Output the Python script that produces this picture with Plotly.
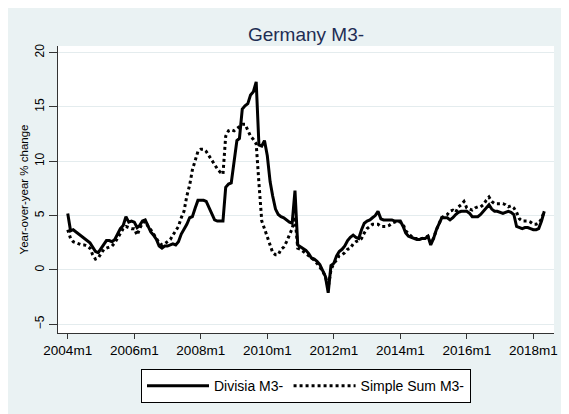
import pandas as pd
import plotly.graph_objects as go

start_month = "2004-01-01"

divisia_m3 = [
    5.2, 3.6, 3.7, 3.5, 3.3, 3.1, 2.9, 2.7, 2.5, 2.1, 1.7, 1.6,      # 2004
    2.0, 2.3, 2.7, 2.7, 2.6, 2.8, 3.3, 3.8, 4.1, 4.9, 4.4, 4.5,      # 2005
    4.4, 3.9, 4.1, 4.5, 4.6, 4.1, 3.5, 3.2, 2.8, 2.2, 2.0, 2.2,      # 2006
    2.2, 2.3, 2.4, 2.3, 2.6, 3.3, 3.7, 4.2, 4.8, 4.9, 5.7, 6.4,      # 2007
    6.4, 6.4, 6.3, 5.7, 5.1, 4.6, 4.5, 4.5, 4.5, 7.6, 7.9, 8.0,      # 2008
    10.2, 11.9, 12.1, 14.8, 15.1, 15.3, 16.1, 16.4, 17.3, 11.5, 11.4, 11.9,  # 2009
    10.5, 8.1, 6.8, 5.6, 5.1, 4.9, 4.8, 4.6, 4.4, 4.3, 7.3, 2.3,     # 2010
    2.1, 1.9, 1.8, 1.5, 1.1, 1.0, 0.8, 0.5, 0.0, -0.6, -2.1, 0.4,    # 2011
    0.6, 1.3, 1.7, 1.9, 2.2, 2.7, 3.0, 3.2, 3.0, 2.9, 3.7, 4.3,      # 2012
    4.5, 4.6, 4.8, 5.0, 5.4, 4.7, 4.6, 4.6, 4.6, 4.6, 4.5, 4.5,      # 2013
    4.5, 4.0, 3.4, 3.1, 3.0, 2.9, 2.8, 2.8, 2.9, 2.9, 3.1, 2.3,      # 2014
    2.9, 3.7, 4.3, 4.8, 4.8, 4.8, 4.6, 4.8, 5.1, 5.3, 5.4, 5.4,      # 2015
    5.4, 5.2, 4.9, 4.9, 4.9, 5.1, 5.4, 5.7, 6.0, 5.6, 5.4, 5.4,      # 2016
    5.3, 5.2, 5.3, 5.4, 5.3, 5.1, 4.0, 3.9, 3.8, 3.9, 3.9, 3.8,      # 2017
    3.7, 3.7, 3.8, 4.5, 5.4,                                         # 2018
]

simple_sum_m3 = [
    3.7, 2.9, 2.6, 2.5, 2.4, 2.3, 2.3, 2.2, 2.0, 1.4, 1.0, 1.1,      # 2004
    1.5, 1.9, 2.0, 2.1, 2.2, 2.5, 2.9, 3.4, 3.8, 4.0, 3.9, 3.8,      # 2005
    3.8, 3.2, 3.8, 4.3, 4.5, 4.0, 3.7, 3.3, 2.9, 2.5, 2.3, 2.4,      # 2006
    2.6, 2.8, 3.2, 3.6, 4.0, 4.8, 5.4, 6.8, 7.8, 9.2, 10.2, 10.9,    # 2007
    11.1, 11.1, 10.9, 10.5, 10.0, 9.6, 9.3, 9.0, 8.8, 12.3, 12.8, 12.9,  # 2008
    12.8, 13.0, 13.2, 13.4, 13.4, 12.8, 12.3, 12.0, 11.6, 8.0, 4.5, 3.8,  # 2009
    3.0, 2.1, 1.6, 1.4, 1.4, 1.9, 2.1, 2.6, 3.2, 3.8, 4.9, 2.0,      # 2010
    1.9, 1.7, 1.5, 1.3, 1.1, 0.9, 0.6, 0.3, -0.1, -0.6, -1.6, 0.0,   # 2011
    0.6, 0.9, 1.3, 1.4, 1.6, 1.9, 2.0, 2.4, 2.6, 2.7, 2.9, 3.4,      # 2012
    3.8, 4.0, 4.2, 4.2, 4.2, 4.0, 4.0, 4.0, 4.1, 4.3, 4.4, 4.5,      # 2013
    4.4, 4.2, 3.6, 3.3, 3.1, 2.9, 2.9, 2.9, 2.9, 3.0, 3.1, 2.5,      # 2014
    2.9, 3.7, 4.3, 4.8, 5.0, 5.1, 5.4, 5.5, 5.3, 5.8, 6.0, 6.3,      # 2015
    5.7, 5.6, 5.5, 5.7, 5.8, 5.8, 6.0, 6.4, 6.7, 6.3, 6.1, 6.1,      # 2016
    6.1, 6.1, 6.0, 5.8, 5.9, 5.7, 5.3, 4.7, 4.5, 4.5, 4.5, 4.4,      # 2017
    4.2, 4.2, 4.3, 4.7, 5.4,                                         # 2018
]

x_tick_dates = ["2004-01-01", "2006-01-01", "2008-01-01", "2010-01-01",
                "2012-01-01", "2014-01-01", "2016-01-01", "2018-01-01"]
x_tick_labels = ["2004m1", "2006m1", "2008m1", "2010m1",
                 "2012m1", "2014m1", "2016m1", "2018m1"]
y_tick_values = [-5, 0, 5, 10, 15, 20]

months = pd.date_range(start_month, periods=len(divisia_m3), freq="MS")

FONT = "Arial, Liberation Sans, sans-serif"
BG = "#EAF2F3"

fig = go.Figure()
fig.add_trace(go.Scatter(x=months, y=divisia_m3, mode="lines", name="Divisia M3-",
                         line=dict(color="black", width=3)))
fig.add_trace(go.Scatter(x=months, y=simple_sum_m3, mode="lines", name="Simple Sum M3-",
                         line=dict(color="black", width=3, dash="dot")))

# the page body has an 8px margin, so the figure is drawn 8px in from the window corner
OFF = 8
W, H = 569 - OFF, 414 - OFF
L, R, T, B = 58 - OFF, 11, 46 - OFF, 78
pw, ph = W - L - R, H - T - B

def px_x(p):
    return (p - OFF - L) / pw

def px_y(p):
    return 1 - (p - OFF - T) / ph

fig.update_layout(
    width=W, height=H,
    margin=dict(l=L, r=R, t=T, b=B),
    paper_bgcolor=BG,
    plot_bgcolor="white",
    font=dict(family=FONT, color="black"),
    title=dict(text="Germany M3-", x=px_x(308), xref="paper", xanchor="center",
               y=1 - (34 - OFF) / H, yref="container", yanchor="middle",
               font=dict(size=19, color="#1E2D53", family=FONT)),
    xaxis=dict(
        range=["2003-09-16", "2018-08-16"],
        tickvals=x_tick_dates, ticktext=x_tick_labels,
        ticks="outside", ticklen=5, tickwidth=1, tickcolor="#333",
        showgrid=False, zeroline=False,
        showline=True, linecolor="#333", linewidth=1,
        tickfont=dict(size=13.5, family=FONT, color="black"),
    ),
    yaxis=dict(
        range=[-5.8, 20.6],
        tickvals=y_tick_values,
        ticks="outside", ticklen=8, tickwidth=1, tickcolor="#333",
        tickangle=-90,
        showgrid=True, gridcolor="#E4ECEE", gridwidth=1,
        zeroline=False,
        showline=True, linecolor="#333", linewidth=1,
        tickfont=dict(size=12, family=FONT, color="black"),
        title=dict(text="Year-over-year % change", standoff=2,
                   font=dict(size=11.5, family=FONT, color="black")),
    ),
    legend=dict(
        orientation="h", x=0.5, xanchor="center", y=px_y(372.6), yanchor="top",
        bgcolor="white", bordercolor="black", borderwidth=1,
        font=dict(size=14, family=FONT, color="black"),
        itemwidth=62, tracegroupgap=0,
    ),
    showlegend=True,
)

fig.write_html("out.html")
